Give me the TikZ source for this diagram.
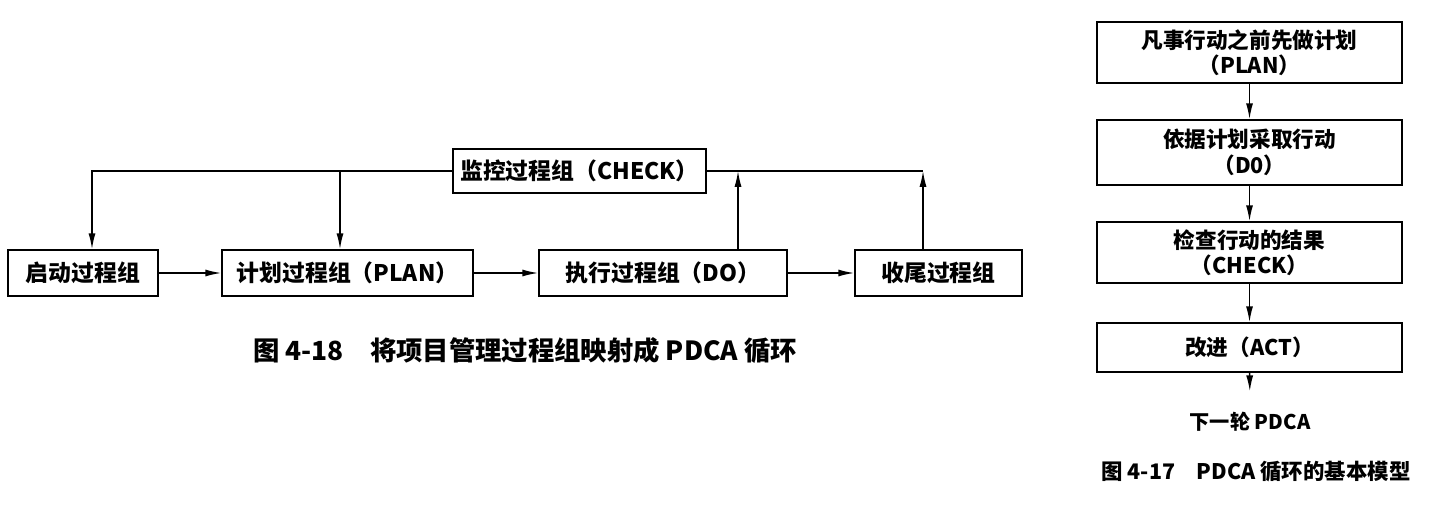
\documentclass[tikz,border=0pt]{standalone}
\usepackage{fontspec}
\setmainfont{Noto Sans CJK SC}
\usetikzlibrary{arrows.meta}

\begin{document}
\begin{tikzpicture}[x=0.02cm, y=-0.02cm,
    grp/.style={draw, line width=1pt, inner sep=0pt, minimum height=0.92cm,
      font=\fontsize{13}{15}\selectfont\bfseries},
    stagebox/.style={draw, line width=1pt, inner sep=0pt, minimum width=6.1cm,
      align=center, font=\fontsize{12.3}{14.5}\selectfont\bfseries},
    arr/.style={-{Latex[length=9pt,width=4pt]}, line width=0.8pt},
    capt/.style={font=\fontsize{15}{17}\selectfont\bfseries}]
      \useasboundingbox (0,0) rectangle (1429,520);
      % left: process groups mapped onto PDCA
      \node[grp, minimum width=3cm] (start) at (83,273) {启动过程组};
      \node[grp, minimum width=5.02cm] (plan) at (347.5,273) {计划过程组（PLAN）};
      \node[grp, minimum width=4.96cm] (do) at (663,273) {执行过程组（DO）};
      \node[grp, minimum width=3.34cm] (close) at (938.5,273) {收尾过程组};
      \node[grp, minimum width=5.06cm, minimum height=0.88cm] (check) at (579.5,171) {监控过程组（CHECK）};
      \coordinate (tapplan) at (340,171);
      \coordinate (tapdo) at (738,171);
      \coordinate (tapclose) at (923,171);
      \draw[arr] (start) -- (plan);
      \draw[arr] (plan) -- (do);
      \draw[arr] (do) -- (close);
      \draw[arr] (check.west) -| ([xshift=0.18cm]start.north);
      \draw[arr] (tapplan) -- (tapplan |- plan.north);
      \draw[line width=0.8pt] (check.east) -- (tapclose);
      \draw[arr] (tapdo |- do.north) -- (tapdo);
      \draw[arr] (tapclose |- close.north) -- (tapclose);
      \node[capt] (cap18) at (525,351) {图 4-18\quad 将项目管理过程组映射成 PDCA 循环};
      % right: basic PDCA model
      \node[stagebox, minimum height=1.22cm] (p) at (1249.5,52.5) {凡事行动之前先做计划\\（PLAN）};
      \node[stagebox, minimum height=1.3cm] (d) at (1249.5,152.5) {依据计划采取行动\\（D0）};
      \node[stagebox, minimum height=1.22cm] (c) at (1249.5,252.5) {检查行动的结果\\（CHECK）};
      \node[stagebox, minimum height=0.98cm] (a) at (1249.5,347.5) {改进（ACT）};
      \node[font=\fontsize{11.5}{13}\selectfont\bfseries] (next) at (1250,422) {下一轮 PDCA};
      \draw[arr] (p) -- (d);
      \draw[arr] (d) -- (c);
      \draw[arr] (c) -- (a);
      \draw[arr, shorten >=0.3cm] (a) -- (next);
      \node[font=\fontsize{12.2}{14}\selectfont\bfseries] (cap17) at (1256,472) {图 4-17\quad PDCA 循环的基本模型};
\end{tikzpicture}
\end{document}
